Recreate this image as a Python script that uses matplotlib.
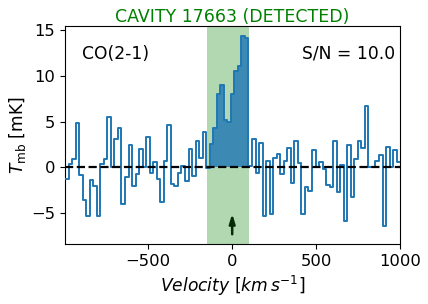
import numpy as np
import matplotlib
matplotlib.use("Agg")
import matplotlib.pyplot as plt

# channel layout
v_start = -995.0
dv = 21.0

# brightness temperature per channel [mK]
T_mb = [
    -1.25, 0.3, 0.85, 4.8, -0.85, -3.55, -5.3, -1.45, -2.05, -5.3,
    0.3, 0.85, 5.45, 0.0, 3.05, 4.3, -4.07, -1.13, 2.38, -2.09,
    -0.77, 2.0, 0.04, 3.26, -0.62, 0.62, -1.25, -3.85, 0.73, 4.58,
    -1.87, -2.09, -0.6, 0.15, -1.47, 2.02, -0.92, 2.87, 0.96, 3.86,
    -0.1, 2.57, 4.34, 8.0, 8.97, 5.15, 4.93, 8.0, 10.55, 11.1,
    14.4, 14.1, 0.15, 3.07, -0.6, 2.68, -5.4, 0.7, -5.12, 0.97,
    1.48, -0.78, 0.72, 2.12, -1.78, 2.88, 0.45, -5.12, -2.18, -2.64,
    1.9, 0.0, 0.6, -0.16, -1.99, -2.21, 2.88, -2.76, 0.26, -5.85,
    2.48, -3.3, 0.92, 2.9, 2.05, 6.65, 0.07, 0.07, 0.73, 1.33,
    -6.5, 2.2, 0.07, 1.9, 0.6,
]
det_lo, det_hi = -150.0, 100.0     # detection window [km/s]
sig_first, sig_last = 41, 51       # channels filled as signal
arrow_v = 0.0
title = "CAVITY 17663 (DETECTED)"
line_label = "CO(2-1)"
snr_label = "S/N = 10.0"

T = np.array(T_mb)
edges = v_start + dv * np.arange(len(T) + 1)

fig = plt.figure(figsize=(4.28, 3.04), dpi=100)
ax = fig.add_axes([0.152, 0.197, 0.783, 0.717])
fs = 12.3

ax.axvspan(det_lo, det_hi, color="green", alpha=0.3, lw=0, zorder=0)
ax.step(edges, np.append(T, T[-1]), where="post", color="#1f77b4", lw=1.4, zorder=3)
fe = edges[sig_first:sig_last + 2]
fv = np.append(T[sig_first:sig_last + 1], T[sig_last])
ax.fill_between(fe, 0, fv, step="post", color="#1f77b4", alpha=0.8, lw=0, zorder=2)
ax.axhline(0, color="k", ls="--", lw=1.6, zorder=4)
ax.annotate("", xy=(arrow_v, -5.1), xytext=(arrow_v, -7.35),
            arrowprops=dict(arrowstyle="-|>,head_length=0.55,head_width=0.17",
                            color="#072b07", lw=1.8, shrinkA=0, shrinkB=0), zorder=5)

ax.set_xlim(edges[0], edges[-1])
ax.set_ylim(-8.43, 15.45)
ax.set_xticks([-500, 0, 500, 1000])
ax.set_yticks([-5, 0, 5, 10, 15])
ax.tick_params(labelsize=11.8)
ax.set_xlabel(r"$Velocity\ [km\,s^{-1}]$", fontsize=fs)
ax.set_ylabel(r"$T_{\rm mb}$ [mK]", fontsize=fs, labelpad=2)
ax.set_title(title, color="green", fontsize=12.5, pad=3)
ax.text(0.05, 0.915, line_label, transform=ax.transAxes, fontsize=fs, va="top")
ax.text(0.985, 0.915, snr_label, transform=ax.transAxes, fontsize=fs, va="top", ha="right")

fig.savefig("out.png", dpi=100)
